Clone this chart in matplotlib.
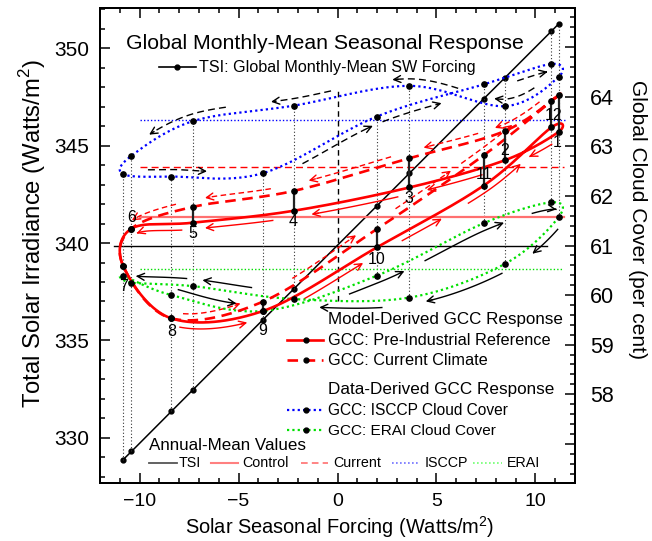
import numpy as np
import matplotlib
matplotlib.use("Agg")
import matplotlib.pyplot as plt
from matplotlib.lines import Line2D
from matplotlib.ticker import FixedLocator, MultipleLocator, FuncFormatter

plt.rcParams['font.family'] = ['Liberation Sans', 'DejaVu Sans']
plt.rcParams['mathtext.fontset'] = 'custom'
plt.rcParams['mathtext.rm'] = 'Liberation Sans'

# ---------------- data ----------------
months = ['1', '2', '3', '4', '5', '6', '7', '8', '9', '10', '11', '12']
forcing = [11.17, 8.46, 3.63, -2.22, -7.29, -10.41, -10.83, -8.39, -3.76, 1.98, 7.39, 10.80]
tsi = [351.25, 348.49, 343.58, 337.63, 332.48, 329.30, 328.88, 331.36, 336.07, 341.90, 347.41, 350.87]
gcc_control = [63.29, 62.72, 62.17, 61.70, 61.46, 61.34, 60.59, 59.53, 59.68, 60.96, 62.21, 63.38]
gcc_current = [64.03, 63.31, 62.76, 62.10, 61.78, 61.34, 60.59, 59.53, 59.87, 61.33, 62.82, 63.91]
gcc_isccp = [64.40, 63.81, 64.22, 63.82, 63.51, 62.81, 62.44, 62.39, 62.46, 63.60, 64.25, 64.66]
gcc_erai = [61.57, 60.63, 59.95, 59.92, 60.18, 60.25, 60.39, 60.00, 59.68, 60.39, 61.45, 61.87]

annual_tsi = 339.85
annual_control = 61.58
annual_current = 62.58
annual_isccp = 63.53
annual_erai = 60.52

# ---------------- figure / axes ----------------
W, H = 652, 541
fig = plt.figure(figsize=(W / 100, H / 100), dpi=100)
L, R, T, B = 100, 575, 8, 483
ax = fig.add_axes([L / W, 1 - B / H, (R - L) / W, (B - T) / H])
ax2 = ax.twinx()
ax.set_xlim(-12, 12)
ax.set_ylim(327.68, 352.07)
ax2.set_ylim(56.21, 65.79)

for a in (ax, ax2):
    for s in a.spines.values():
        s.set_linewidth(1.4)

ax.xaxis.set_major_locator(MultipleLocator(5))
ax.xaxis.set_minor_locator(MultipleLocator(1))
ax.yaxis.set_major_locator(MultipleLocator(5))
ax.yaxis.set_minor_locator(MultipleLocator(1))
ax2.yaxis.set_major_locator(FixedLocator(list(range(57, 66))))
ax2.yaxis.set_minor_locator(MultipleLocator(0.2))
ax2.yaxis.set_major_formatter(FuncFormatter(
    lambda v, p: '%d' % round(v) if 58 <= round(v) <= 64 else ''))

ax.tick_params(axis='both', which='both', direction='in', top=True, right=False, width=1.1)
ax.tick_params(axis='both', which='major', length=7.2)
ax.tick_params(axis='both', which='minor', length=3.6)
ax.tick_params(axis='x', which='major', labelsize=14, pad=7)
ax.tick_params(axis='y', which='major', labelsize=15, pad=7.5)
ax2.tick_params(axis='y', which='both', direction='in', right=True, left=False, width=1.1)
ax2.tick_params(axis='y', which='major', length=7.2, labelsize=15.5, pad=11)
ax2.tick_params(axis='y', which='minor', length=3.6)


# ---------------- helpers ----------------
def closed_curve(xs, ys, tt):
    P = np.column_stack([xs, ys])
    N = len(P)
    tt = np.asarray(tt, dtype=float) % N
    i = np.floor(tt).astype(int) % N
    s = (tt - np.floor(tt))[:, None]
    p0, p1, p2, p3 = P[(i - 1) % N], P[i], P[(i + 1) % N], P[(i + 2) % N]
    m1 = (p2 - p0) / 2.0
    m2 = (p3 - p1) / 2.0
    h00 = 2 * s**3 - 3 * s**2 + 1
    h10 = s**3 - 2 * s**2 + s
    h01 = -2 * s**3 + 3 * s**2
    h11 = s**3 - s**2
    return h00 * p1 + h10 * m1 + h01 * p2 + h11 * m2


TT = np.linspace(0, 12, 1201)


def draw_arrows(xs, ys, specs, color, ls, dist=7.0, lw=1.0):
    for t0, t1, side in specs:
        tt = np.linspace(t0, t1, 25)
        D = ax2.transData.transform(closed_curve(xs, ys, tt))
        d = np.gradient(D, axis=0)
        nrm = np.column_stack([-d[:, 1], d[:, 0]])
        nrm /= np.linalg.norm(nrm, axis=1)[:, None]
        chord = D[-1] - D[0]
        flip = 1.0 if chord[0] >= 0 else -1.0  # make normal point "up"
        Doff = D + side * dist * flip * nrm
        P = ax2.transData.inverted().transform(Doff)
        ax2.plot(P[:-1, 0], P[:-1, 1], color=color, ls=ls, lw=lw, zorder=4)
        ax2.annotate('', xy=P[-1], xytext=P[-3],
                     arrowprops=dict(arrowstyle='->,head_length=0.5,head_width=0.25',
                                     color=color, lw=lw, shrinkA=0, shrinkB=0),
                     zorder=4)


# ---------------- dotted month guides ----------------
fx_arr = np.array(forcing)
tsi_r = ax2.transData.inverted().transform(
    ax.transData.transform(np.column_stack([fx_arr, tsi])))[:, 1]
stack = np.vstack([tsi_r, gcc_control, gcc_current, gcc_isccp, gcc_erai])
ax2.vlines(fx_arr, stack.min(axis=0), stack.max(axis=0), colors='#333333',
           linestyles=[(0, (1, 2))], lw=0.8, zorder=1)

# ---------------- annual means ----------------
ax.plot([-11.28, 10.6], [annual_tsi] * 2, color='k', lw=1.0, zorder=2)
ax2.plot([-10.0, 11.45], [annual_control] * 2, color='#ff7070', lw=1.6, zorder=2)
ax2.plot([-10.0, 11.45], [annual_current] * 2, color='red', ls=(0, (5, 3)), lw=1.0, zorder=2)
ax2.plot([-10.0, 11.55], [annual_isccp] * 2, color='blue', ls=(0, (1, 1.5)), lw=1.0, zorder=2)
ax2.plot([-10.0, 11.4], [annual_erai] * 2, color='#00e000', ls=(0, (1, 1.5)), lw=1.0, zorder=2)
ax2.plot([0, 0], [59.88, 64.17], color='k', ls=(0, (4, 3)), lw=1.0, zorder=2)

# ---------------- TSI ----------------
order = np.argsort(fx_arr)
ax.plot(fx_arr[order], np.array(tsi)[order], color='k', lw=1.1, zorder=3)
ax.plot(forcing, tsi, 'o', color='k', ms=3.5, zorder=3)

# ---------------- GCC curves ----------------
for vals, col, ls, lw in [(gcc_isccp, 'blue', (0, (1, 1.4)), 1.6),
                          (gcc_erai, '#00e000', (0, (1, 1.4)), 1.6),
                          (gcc_current, 'red', (0, (4, 2.5)), 1.9),
                          (gcc_control, 'red', '-', 1.9)]:
    C = closed_curve(forcing, vals, TT)
    ax2.plot(C[:, 0], C[:, 1], color=col, ls=ls, lw=lw, zorder=5)

ax2.vlines(forcing, gcc_control, gcc_current, colors='#222222', lw=1.6, zorder=6)
for vals in (gcc_isccp, gcc_erai, gcc_current, gcc_control):
    ax2.plot(forcing, vals, 'o', color='k', ms=3.8, zorder=7)

# ---------------- direction arrows ----------------
arrows_control = [(0.3, 0.7, -1), (1.3, 1.85, -1), (2.12, 2.85, -1), (3.2, 3.87, -1),
                  (4.15, 4.93, -1), (7.13, 7.83, -1), (8.35, 8.85, -1), (9.2, 9.55, -1),
                  (9.8, 10.4, -1)]
arrows_current = [(0.4, 1.1, 1), (1.3, 1.85, 1), (2.15, 2.85, 1), (3.2, 3.85, 1),
                  (4.2, 4.9, 1), (7.15, 7.8, 1), (8.3, 8.85, 1), (9.2, 9.7, 1),
                  (9.8, 10.4, 1)]
arrows_isccp = [(0.5, 1.15, 1), (1.55, 2.15, 1), (2.66, 3.2, 1), (3.63, 4.56, 1),
                (6.63, 7.43, 1), (8.33, 8.94, -1), (9.03, 9.56, -1), (10.38, 10.88, -1)]
arrows_erai = [(0.2, 0.67, -1), (1.08, 1.86, -1), (2.25, 2.77, -1), (3.4, 3.9, 1),
               (4.09, 4.9, 1), (7.07, 7.73, 1), (8.74, 9.22, -1), (9.4, 10.21, -1),
               (10.6, 11.2, -1)]
draw_arrows(forcing, gcc_control, arrows_control, 'red', '-', dist=6.5)
draw_arrows(forcing, gcc_current, arrows_current, 'red', (0, (4, 2.5)), dist=6.5)
draw_arrows(forcing, gcc_isccp, arrows_isccp, 'k', (0, (5, 3)), dist=7)
draw_arrows(forcing, gcc_erai, arrows_erai, 'k', '-', dist=7)

# ---------------- month labels ----------------
lab_dx = [-1, 0, 0, 0, 0, 0, 0, 0, 0, 0, 0, 2]
lab_dy = [-11, 10, -11, -11, -11, 11, -21, -13, -20, -12, 11, 12]
for i, m in enumerate(months):
    ax2.annotate(m, (forcing[i], gcc_control[i]),
                 xytext=(lab_dx[i] * 0.72, lab_dy[i] * 0.72), textcoords='offset points',
                 ha='center', va='center', fontsize=11.5, zorder=8)

# ---------------- texts ----------------
renderer = fig.canvas.get_renderer()


def ftext(px, py, s, width=None, height=None, size=10, **kw):
    kw.setdefault('va', 'baseline')
    t = fig.text(px / W, 1 - py / H, s, fontsize=size, **kw)
    if width:
        w = t.get_window_extent(renderer).width
        t.set_fontsize(size * width / w)
    elif height:
        h = t.get_window_extent(renderer).height
        t.set_fontsize(size * height / h)
    return t


def fline(x0, x1, y, dot=None, **kw):
    fig.add_artist(Line2D([x0 / W, x1 / W], [1 - y / H] * 2, **kw))
    if dot is not None:
        fig.add_artist(Line2D([dot / W], [1 - y / H], marker='o', ms=3.5, color='k', ls='none'))


ftext(324.5, 49, 'Global Monthly-Mean Seasonal Response', width=398, ha='center')
fline(159, 196, 66.5, dot=176.7, color='k', lw=1.2)
ftext(199.3, 71.7, 'TSI: Global Monthly-Mean SW Forcing', width=277)

ftext(328.3, 324.3, 'Model-Derived GCC Response', width=235)
ftext(328.3, 345, 'GCC: Pre-Industrial Reference', width=221.7)
ftext(328.3, 365, 'GCC: Current Climate', width=159)
ftext(328.3, 394, 'Data-Derived GCC Response', width=225.7)
ftext(328.3, 415, 'GCC: ISCCP Cloud Cover', width=181)
ftext(328.3, 435, 'GCC: ERAI Cloud Cover', width=169)
fline(287, 323, 339.5, dot=306, color='red', lw=1.9)
fline(287, 323, 359.5, dot=306, color='red', lw=1.9, ls=(0, (4, 2.5)))
fline(287, 323, 409.5, dot=306, color='blue', lw=1.6, ls=(0, (1, 1.4)))
fline(287, 323, 429.5, dot=306, color='#00e000', lw=1.6, ls=(0, (1, 1.4)))

ftext(149.3, 450, 'Annual-Mean Values', width=157.4)
t_ref = ftext(333.3, 466.7, 'Current', width=47.7)
sz = t_ref.get_fontsize()
ftext(179, 466.7, 'TSI', size=sz)
ftext(242.7, 466.7, 'Control', size=sz)
ftext(425, 466.7, 'ISCCP', size=sz)
ftext(506.7, 466.7, 'ERAI', size=sz)
fline(149.3, 177.3, 462.5, color='#555555', lw=1.3)
fline(210.7, 237.7, 462.5, color='#ff8080', lw=1.5)
fline(301, 327.7, 462.5, color='#ff7070', lw=1.2, ls=(0, (4, 2.5)))
fline(391.7, 420, 462.5, color='#7070ff', lw=1.2, ls=(0, (1, 1.4)))
fline(473.3, 501.7, 462.5, color='#70ff70', lw=1.2, ls=(0, (1, 1.4)))

ftext(340, 533.5, 'Solar Seasonal Forcing (Watts/m$^2$)', width=310, ha='center')
ftext(33, 233, 'Total Solar Irradiance (Watts/m$^2$)', height=350, rotation=90,
      ha='center', va='center')
ftext(638, 219, 'Global Cloud Cover (per cent)', height=280, rotation=270,
      ha='center', va='center')

fig.savefig('out.png', dpi=100)
